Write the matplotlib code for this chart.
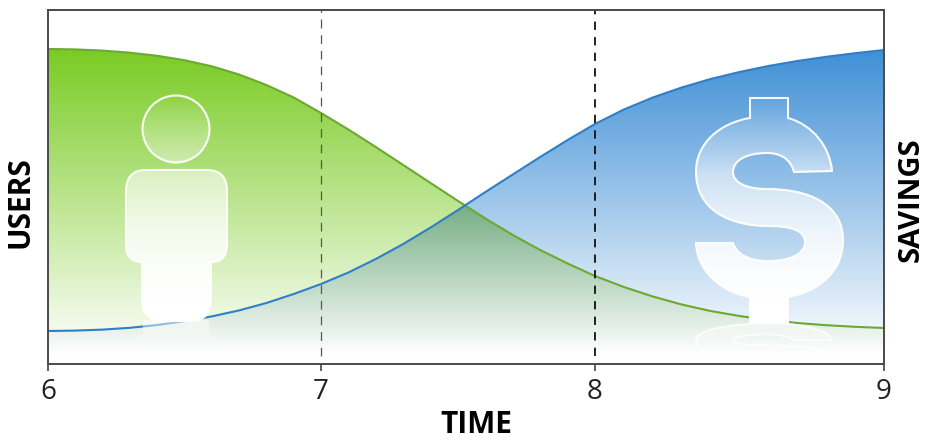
#!/usr/bin/env python3
import numpy as np
import matplotlib
matplotlib.use("Agg")
import matplotlib.pyplot as plt
from matplotlib.path import Path
from matplotlib.patches import PathPatch, Polygon
from matplotlib.transforms import Affine2D

plt.rcParams['font.family'] = ['Open Sans', 'DejaVu Sans']

# values, y has no scale so it is in arbitrary units
time = [6.0, 6.1, 6.2, 6.3, 6.4, 6.5, 6.6, 6.7, 6.8, 6.9,
        7.0, 7.1, 7.2, 7.3, 7.4, 7.5, 7.6, 7.7, 7.8, 7.9,
        8.0, 8.1, 8.2, 8.3, 8.4, 8.5, 8.6, 8.7, 8.8, 8.9, 9.0]
users = [315, 314.6, 313.4, 311.3, 308.2, 303.8, 297.7, 289.5, 279, 266.5,
         251, 234.5, 217, 199, 181, 163, 145.5, 129, 114, 100.5,
         88, 77, 67.5, 59.5, 53, 48, 44, 41, 38.8, 37.2, 36]
savings = [33, 33.4, 34.4, 36.2, 39, 42.8, 47.6, 53.6, 61, 70,
           80, 91.5, 105, 120, 136.5, 154, 172, 189.5, 207, 224,
           240, 254.5, 266.5, 276.5, 285, 292, 298, 303, 307.2, 310.8, 314]
xticks = [6, 7, 8, 9]
xtick_px = [48, 321, 595, 884]  # the picture's ticks are not evenly spaced
ymax = 354

W, H = 936, 442
L, R, T, B = 48, 884, 10, 364

fig = plt.figure(figsize=(W/100, H/100), dpi=100)
ax = fig.add_axes([L/W, 1-B/H, (R-L)/W, (B-T)/H])
ax.set_xscale('function', functions=(lambda v: np.interp(v, xticks, xtick_px),
                                     lambda p: np.interp(p, xtick_px, xticks)))
px = Affine2D().scale(1, -1).translate(0, H)  # icon shapes are in picture pixels
rows = np.arange(T, B) + 0.5


def gradient(top_y, top_col, bottom_y):
    c = np.array(matplotlib.colors.to_rgb(top_col))
    t = np.clip((bottom_y-rows)/(bottom_y-top_y), 0, 1)[:, None]
    return (1-t+t*c)[:, None, :]


def show(img, z):
    return ax.imshow(img, extent=(0, 1, 0, 1), transform=ax.transAxes, aspect='auto',
                     interpolation='bilinear', zorder=z)


def below(xs, ys):
    pts = [(xs[0], 0)] + list(zip(xs, ys)) + [(xs[-1], 0)]
    return Polygon(pts, closed=True, transform=ax.transData, fc='none', ec='none')


x = np.array(time)
u = np.array(users, float)
s = np.array(savings, float)

# overlap outline needs the crossing point as a vertex
i = np.where(u-s > 0)[0][-1]
f = (u[i]-s[i])/((u[i]-s[i])-(u[i+1]-s[i+1]))
xc = x[i]+f*(x[i+1]-x[i])
yc = u[i]+f*(u[i+1]-u[i])
ox = np.r_[x[:i+1], xc, x[i+1:]]
oy = np.r_[s[:i+1], yc, u[i+1:]]

for col, top, xs, ys, z in [('#79CB22', 49, x, u, 1),
                            ('#3F8FD6', 50, x, s, 1.1),
                            ('#76AE84', 205, ox, oy, 1.2)]:
    im = show(gradient(top, col, 354), z)
    p = below(xs, ys)
    ax.add_patch(p)
    im.set_clip_path(p)

ax.plot(x, u, color='#6BAA2E', lw=1.5, zorder=2)
ax.plot(x, s, color='#2F7FC8', lw=1.5, zorder=2)

ax.axvline(7, ymin=8/354, color='#555555', lw=0.9, dashes=(7, 5.5), zorder=4)
ax.axvline(8, ymin=8/354, color='#111111', lw=1.3, dashes=(4.6, 4), zorder=4)


def build(segs):
    v, c = [], []
    for seg in segs:
        if len(seg) == 2:
            v.append(seg)
            c.append(Path.LINETO if c else Path.MOVETO)
        elif len(seg) == 4:
            v += [seg[:2], seg[2:]]
            c += [Path.CURVE3]*2
        else:
            v += [seg[:2], seg[2:4], seg[4:]]
            c += [Path.CURVE4]*3
    v.append(v[0])
    c.append(Path.CLOSEPOLY)
    return Path(v, c)


circle = Path.circle((176, 129), 33.5)
body = build([(146, 170), (207, 170), (227, 170, 227, 191), (227, 245), (227, 262, 211, 262),
              (211, 300), (211, 321, 190, 321), (163, 321), (142, 321, 142, 300),
              (142, 262), (126, 262, 126, 245), (126, 191), (126, 170, 146, 170)])
body_low = build([(143, 320), (209, 320), (209, 337), (226, 340), (226, 352), (126, 352),
                  (126, 340), (143, 337)])

# $ outline, taken off the zoomed picture (x, y in pixels)
d = [(750, 98), (788, 98), (788, 118),
     (813, 125, 830, 147, 832, 171), (794, 172),
     (790, 157, 778, 153, 767, 153), (747, 153, 733, 160, 733, 172),
     (733, 183, 747, 189, 767, 189), (807, 189, 843, 203, 843, 240),
     (843, 273, 817, 292, 788, 297), (788, 323), (750, 323), (750, 297),
     (720, 292, 697, 270, 696, 243), (733, 243),
     (737, 255, 750, 261, 768, 261), (788, 261, 805, 255, 805, 242),
     (805, 230, 790, 226, 768, 226), (730, 226, 696, 210, 696, 172),
     (696, 143, 720, 123, 750, 118)]
dollar = build(d)
dollar_low = Path(dollar.vertices*[1, 0.3]+[0, 318-98*0.3], dollar.codes)

fade = np.interp(rows, [95, 160, 175, 250, 300, 364], [0.0, 0.4, 0.55, 0.85, 1.0, 1.0])
white = np.ones((len(rows), 1, 4))
white[:, :, 3] = fade[:, None]
low = np.ones((len(rows), 1, 4))
low[:, :, 3] = np.interp(rows, [318, 352], [0.6, 0.0])[:, None]

for shape in (circle, body, dollar):
    show(white.copy(), 5).set_clip_path(shape, px)
    ax.add_patch(PathPatch(shape, transform=px, fc='none', ec='white', lw=1.5, alpha=0.95, zorder=6))
show(low.copy(), 5).set_clip_path(body_low, px)
show(low.copy(), 5).set_clip_path(dollar_low, px)
edge = PathPatch(dollar_low, transform=px, fc='none', ec='white', lw=1.3, alpha=0.8, zorder=6)
ax.add_patch(edge)
edge.set_clip_path(Path([(690, 316), (850, 316), (850, 350), (690, 350), (690, 316)]), px)

ax.set_xlim(6, 9)
ax.set_ylim(0, ymax)
ax.set_yticks([])
ax.set_xticks(xticks)
ax.set_xticklabels([str(t) for t in xticks])
ax.minorticks_off()
ax.tick_params(axis='x', length=5, width=1.2, color='#444444', labelsize=20, labelcolor='#222222', pad=5)
for sp in ax.spines.values():
    sp.set_color('#4a4a4a')
    sp.set_linewidth(1.4)
    sp.set_zorder(7)

fig.text(476/W, 1-425/H, 'TIME', fontsize=21.5, fontweight='bold', color='black', ha='center', va='center')
fig.text(21/W, 1-202/H, 'USERS', fontsize=21.5, fontweight='bold', color='black', rotation=90, ha='center', va='center')
fig.text(911/W, 1-200/H, 'SAVINGS', fontsize=21, fontweight='bold', color='black', rotation=90, ha='center', va='center')

fig.savefig('out.png', dpi=100, facecolor='white')
